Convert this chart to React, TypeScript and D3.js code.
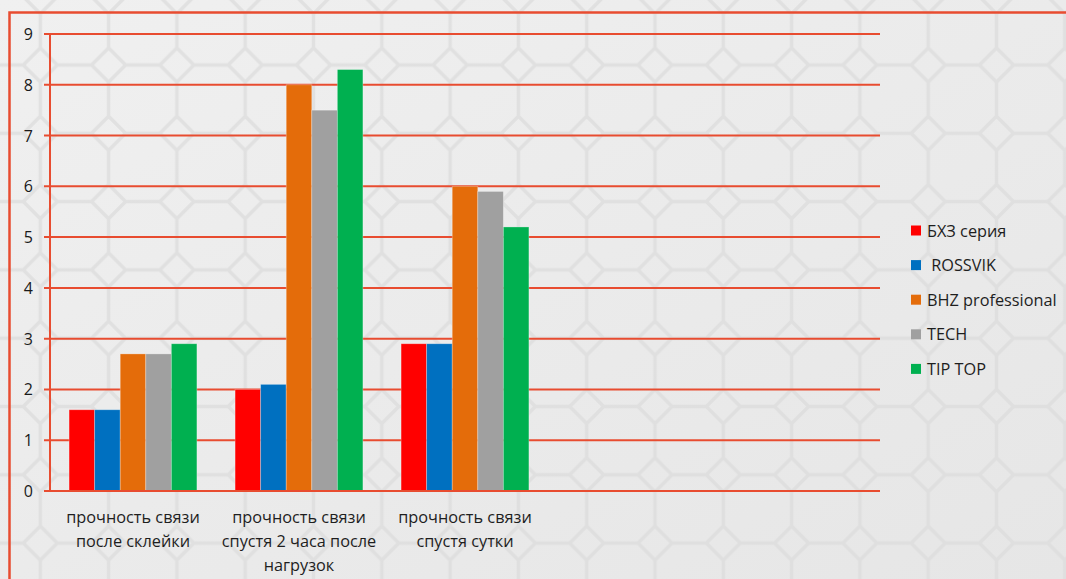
import * as d3 from "d3";

const categories = [
  ["прочность связи", "после склейки"],
  ["прочность связи", "спустя 2 часа после", "нагрузок"],
  ["прочность связи", "спустя сутки"],
];
const slotCount = 5; // axis has room for 5 categories, only 3 are used

const seriesNames = ["БХЗ серия", " ROSSVIK", "BHZ professional", "TECH", "TIP TOP"];
const seriesColors = ["#ff0000", "#0070c0", "#e46c0a", "#a0a0a0", "#00b050"];

const bhzSeria = [1.6, 2.0, 2.9];
const rossvik = [1.6, 2.1, 2.9];
const bhzProfessional = [2.7, 8.0, 6.0];
const tech = [2.7, 7.5, 5.9];
const tipTop = [2.9, 8.3, 5.2];
const seriesValues = [bhzSeria, rossvik, bhzProfessional, tech, tipTop];

const yTicks = [0, 1, 2, 3, 4, 5, 6, 7, 8, 9];

const W = 1066;
const H = 579;
const left = 50;
const right = 880;
const top = 34;
const bottom = 491;
const red = "#e84c30";
const font = "'Open Sans', 'Noto Sans', sans-serif";

export default function App() {
  const y = d3.scaleLinear().domain([0, 9]).range([bottom, top]);
  const x0 = d3
    .scaleBand<number>()
    .domain(d3.range(slotCount))
    .range([left, right]);
  const bw = x0.bandwidth();
  const x1 = d3
    .scaleBand<number>()
    .domain(d3.range(seriesNames.length))
    .range([bw * 0.115, bw * 0.885]);

  // octagon tiling background
  const P = 68.3;
  const d = 17;
  const c = P / 2;
  const tile = `M${c},0V${c - d}M${c},${c + d}V${P}M0,${c}H${c - d}M${c + d},${c}H${P}` +
    `M${c},${c - d}L${c + d},${c}L${c},${c + d}L${c - d},${c}Z`;

  return (
    <svg
      width={W}
      height={H}
      style={{ position: "absolute", left: 0, top: 0, display: "block" }}
      fontFamily={font}
    >
      <defs>
        <linearGradient id="bg" x1="0" y1="0" x2="1" y2="1">
          <stop offset="0" stopColor="#f0f0f0" />
          <stop offset="1" stopColor="#e6e6e6" />
        </linearGradient>
        <pattern
          id="oct"
          patternUnits="userSpaceOnUse"
          width={P}
          height={P}
          x={40.3 - c}
          y={65 - c}
        >
          <path d={tile} fill="none" stroke="#dcdcdc" strokeWidth={3.5} />
        </pattern>
      </defs>
      <rect width={W} height={H} fill="url(#bg)" />
      <rect width={W} height={H} fill="url(#oct)" opacity={0.75} />

      {/* outer frame */}
      <path d={`M${W + 5},12.5H9.5V${H + 5}`} fill="none" stroke={red} strokeWidth={2.5} />

      {/* grid + y ticks */}
      {yTicks.map((t) => (
        <g key={t}>
          <line x1={left - 6} x2={right} y1={y(t)} y2={y(t)} stroke={red} strokeWidth={2} />
          <text
            x={33}
            y={y(t)}
            textAnchor="end"
            dominantBaseline="central"
            fontSize={16}
            fill="#1a1a1a"
          >
            {t}
          </text>
        </g>
      ))}
      <line x1={left} x2={left} y1={y(9)} y2={bottom} stroke={red} strokeWidth={2} />

      {/* bars */}
      {categories.map((_, ci) => (
        <g key={ci} transform={`translate(${x0(ci)},0)`}>
          {seriesValues.map((vals, si) => (
            <rect
              key={si}
              x={x1(si)}
              width={x1.bandwidth()}
              y={y(vals[ci])}
              height={bottom - y(vals[ci])}
              fill={seriesColors[si]}
              stroke="rgba(255,255,255,0.35)"
              strokeWidth={0.8}
            />
          ))}
        </g>
      ))}
      <line x1={left - 6} x2={right} y1={bottom} y2={bottom} stroke={red} strokeWidth={2} />

      {/* category labels */}
      {categories.map((lines, ci) => (
        <text
          key={ci}
          x={(x0(ci) ?? 0) + bw / 2}
          textAnchor="middle"
          fontSize={16.3}
          fill="#1e1e1e"
        >
          {lines.map((l, li) => (
            <tspan key={li} x={(x0(ci) ?? 0) + bw / 2} y={523 + li * 24}>
              {l}
            </tspan>
          ))}
        </text>
      ))}

      {/* legend */}
      {seriesNames.map((name, si) => {
        const ly = 230.5 + si * 34.6;
        return (
          <g key={si}>
            <rect x={911} y={ly - 5} width={10} height={10} fill={seriesColors[si]} />
            <text
              x={927}
              y={ly}
              dominantBaseline="central"
              fontSize={16.3}
              fill="#1e1e1e"
              style={{ whiteSpace: "pre" }}
            >
              {name}
            </text>
          </g>
        );
      })}
    </svg>
  );
}
